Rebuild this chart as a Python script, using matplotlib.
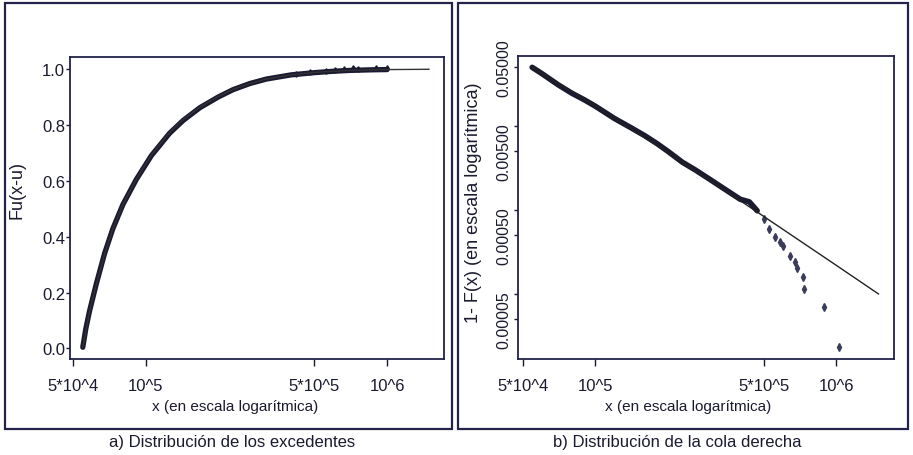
import matplotlib
matplotlib.use('Agg')
import matplotlib.pyplot as plt
from matplotlib.patches import Rectangle
from matplotlib.ticker import FixedLocator, NullLocator

plt.rcParams['font.family'] = ['Liberation Sans', 'DejaVu Sans']

# a) excedentes: CDF empirica y ajustada
emp_a_x = [54900, 56500, 58600, 62500, 67600, 73100, 80500, 91500, 105600, 125600,
           143000, 168000, 200000, 230000, 270000, 316000, 400000, 500000, 600000,
           700000, 850000, 1000000]
emp_a_y = [0.004, 0.07, 0.135, 0.232, 0.340, 0.428, 0.515, 0.605, 0.690, 0.770,
           0.816, 0.862, 0.900, 0.926, 0.948, 0.964, 0.979, 0.987, 0.992, 0.995,
           0.997, 0.998]
top_a_x = [420000, 480000, 560000, 610000, 660000, 720000, 760000, 900000, 1000000]
top_a_y = [0.982, 0.989, 0.994, 0.998, 1.001, 1.002, 1.001, 1.002, 1.003]
fit_a_x = [54900, 58600, 62500, 67600, 73100, 80500, 91500, 105600, 125600, 143000,
           168000, 200000, 230000, 270000, 316000, 400000, 500000, 700000, 1000000,
           1490000]
fit_a_y = [0.004, 0.133, 0.230, 0.338, 0.427, 0.515, 0.606, 0.692, 0.773, 0.819,
           0.864, 0.902, 0.927, 0.948, 0.964, 0.979, 0.988, 0.995, 0.998, 0.999]

# b) cola derecha: 1 - F(x)
emp_b_x = [54600, 60000, 70000, 80000, 90000, 100000, 120000, 140000, 160000,
           180000, 200000, 230000, 260000, 300000, 350000, 400000, 436000, 470000]
emp_b_y = [0.050, 0.042, 0.031, 0.0245, 0.0205, 0.0172, 0.0123, 0.0096, 0.0077,
           0.0062, 0.0050, 0.0037, 0.0030, 0.0023, 0.00172, 0.00134, 0.00125, 0.00098]
tail_b_x = [504000, 528000, 555000, 585000, 599000, 641000, 673000, 686000,
            726000, 734000, 891000, 1030000]
tail_b_y = [7.8e-4, 5.9e-4, 4.8e-4, 4.2e-4, 3.7e-4, 2.85e-4, 2.4e-4, 2.04e-4,
            1.6e-4, 1.15e-4, 7.0e-5, 2.34e-5]
fit_b_x = [54600, 100000, 200000, 500000, 1000000, 1500000]
fit_b_y = [0.050, 0.0172, 0.00486, 8.4e-4, 2.2e-4, 1.0e-4]

xticks = [5e4, 1e5, 5e5, 1e6]
xticklabels = ['5*10^4', '10^5', '5*10^5', '10^6']
yticks_a = [0.0, 0.2, 0.4, 0.6, 0.8, 1.0]
yticks_b = [0.05, 0.005, 0.0005, 0.00005]
yticklabels_b = ['0.05000', '0.00500', '0.00050', '0.00005']
yminor_b = [0.01, 0.001, 0.0001]

W, H = 913, 456
fig = plt.figure(figsize=(W / 100, H / 100), dpi=100)
fig.patch.set_facecolor('white')

ink = '#1a1a30'
frame = '#22224a'

# marcos de cada panel
for x0, x1 in [(5, 452), (458, 908)]:
    fig.add_artist(Rectangle((x0 / W, 1 - 430 / H), (x1 - x0) / W, 426 / H,
                             transform=fig.transFigure, fill=False,
                             edgecolor=frame, lw=1.6))

ax1 = fig.add_axes([70 / W, 1 - 360 / H, 374 / W, 302 / H])
ax2 = fig.add_axes([518 / W, 1 - 360 / H, 376 / W, 303 / H])

# panel a
ax1.plot(emp_a_x, emp_a_y, '-', color=ink, lw=3.8, solid_capstyle='round',
         solid_joinstyle='round')
ax1.plot(top_a_x, top_a_y, 'd', color=ink, ms=2.8)
ax1.plot(fit_a_x, fit_a_y, '-', color='#333', lw=1.0)
ax1.set_xscale('log')
ax1.set_xlim(48600, 1.72e6)
ax1.set_ylim(-0.038, 1.043)
ax1.set_yticks(yticks_a)
ax1.set_yticklabels(['%.1f' % v for v in yticks_a])

# panel b
ax2.plot(emp_b_x, emp_b_y, '-', color=ink, lw=4.0, solid_capstyle='round',
         solid_joinstyle='round')
ax2.plot(tail_b_x, tail_b_y, 'd', color='#3a3a5a', ms=3.6)
ax2.plot(fit_b_x, fit_b_y, '-', color='#222', lw=1.0)
ax2.set_xscale('log')
ax2.set_yscale('log')
ax2.set_xlim(47700, 1.74e6)
ax2.set_ylim(1.68e-5, 0.0682)
ax2.yaxis.set_major_locator(FixedLocator(yticks_b))
ax2.yaxis.set_minor_locator(FixedLocator(yminor_b))
ax2.set_yticklabels(yticklabels_b, rotation=90, va='center')

for ax in (ax1, ax2):
    ax.xaxis.set_major_locator(FixedLocator(xticks))
    ax.xaxis.set_minor_locator(NullLocator())
    ax.set_xticklabels(xticklabels)
    for s in ax.spines.values():
        s.set_color(frame)
        s.set_linewidth(1.3)
    ax.tick_params(axis='x', which='major', direction='out', length=5, width=1,
                   pad=9, labelsize=12, colors=ink)
    ax.tick_params(axis='y', which='both', direction='out', length=3, width=1,
                   pad=1, labelsize=12, colors=ink)

ax1.tick_params(axis='y', pad=0.5)
ax2.tick_params(axis='y', which='minor', labelleft=False)
ax2.tick_params(axis='y', pad=2, labelsize=11.5)

fig.text(17 / W, 1 - 190 / H, 'Fu(x-u)', rotation=90, ha='center', va='center',
         fontsize=13, color=ink)
fig.text(473 / W, 1 - 203 / H, '1- F(x) (en escala logarítmica)', rotation=90,
         ha='center', va='center', fontsize=13, color=ink)
fig.text(235 / W, 1 - 407 / H, 'x (en escala logarítmica)', ha='center', va='center',
         fontsize=11, color=ink)
fig.text(688 / W, 1 - 407 / H, 'x (en escala logarítmica)', ha='center', va='center',
         fontsize=11, color=ink)
fig.text(232 / W, 1 - 443 / H, 'a) Distribución de los excedentes', ha='center',
         va='center', fontsize=12, color=ink)
fig.text(677 / W, 1 - 443 / H, 'b) Distribución de la cola derecha', ha='center',
         va='center', fontsize=12, color=ink)

fig.savefig('out.png', dpi=100, facecolor='white')
